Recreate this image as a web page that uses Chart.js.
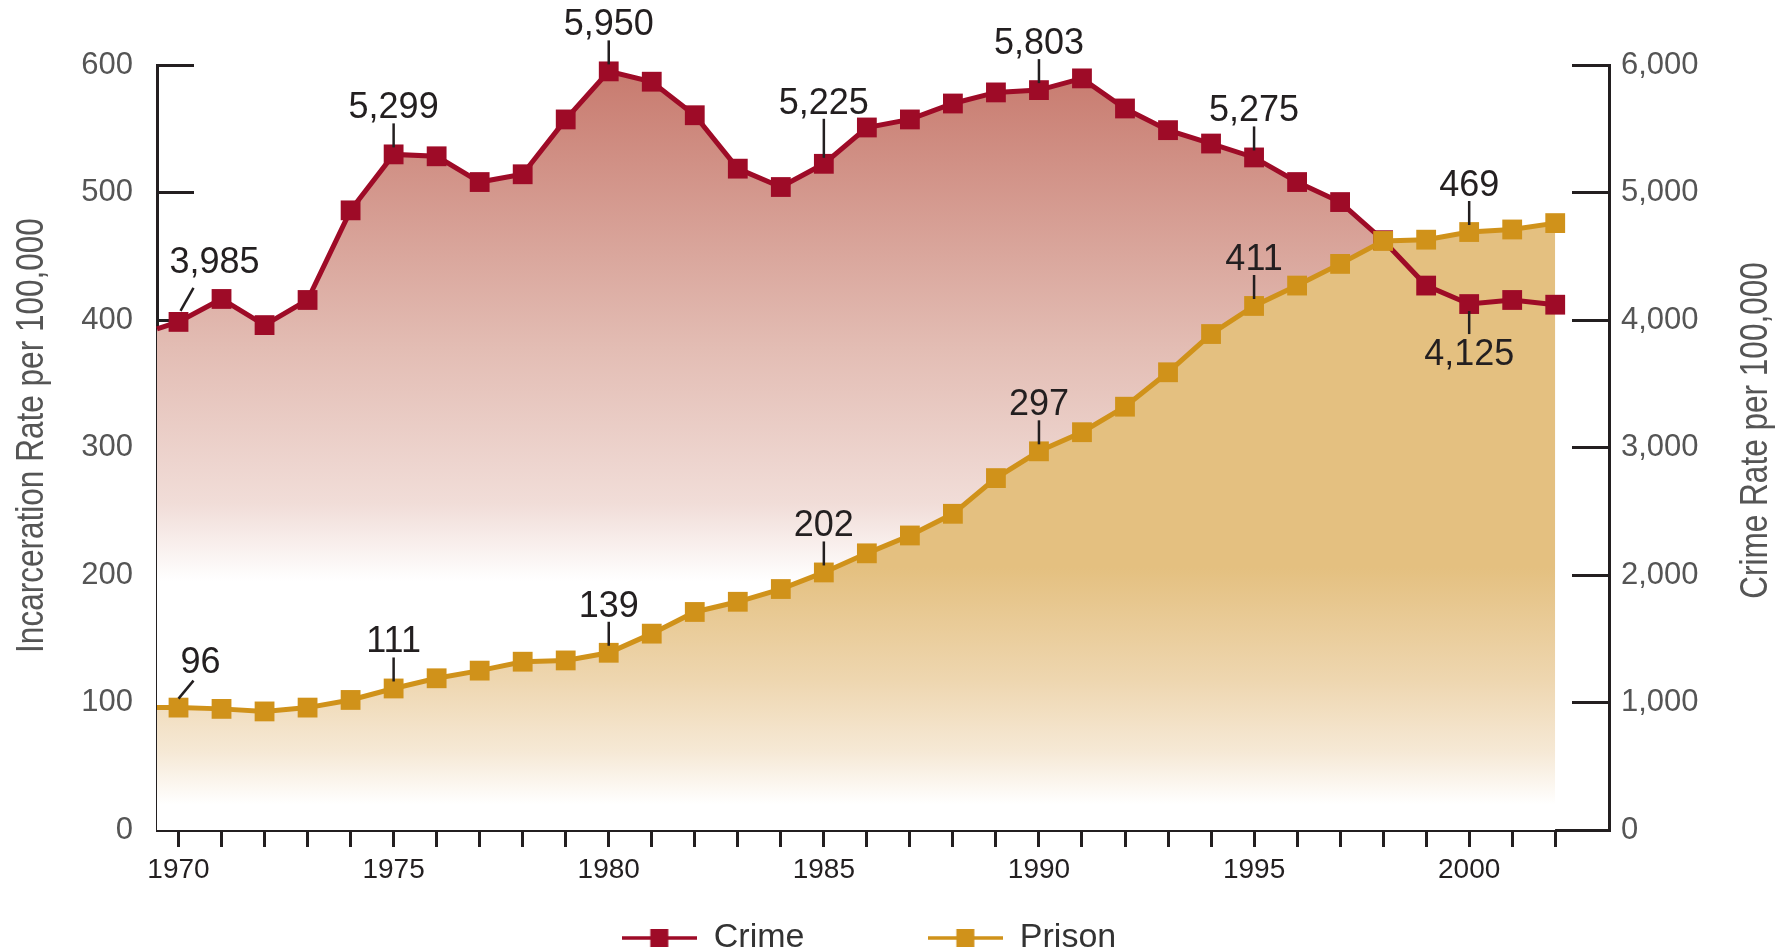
<!DOCTYPE html>
<html>
<head>
<meta charset="utf-8">
<script src="https://cdn.jsdelivr.net/npm/chart.js@4.4.1/dist/chart.umd.min.js"></script>
<style>
  html, body { margin: 0; padding: 0; background: #ffffff; }
  #wrap { width: 1789px; height: 949px; position: relative; }
  canvas { display: block; }
</style>
</head>
<body>
<div id="wrap"><canvas id="chart" width="1789" height="949"></canvas></div>
<script>
// ---------------- data ----------------
const years = [1970, 1971, 1972, 1973, 1974, 1975, 1976, 1977, 1978, 1979,
               1980, 1981, 1982, 1983, 1984, 1985, 1986, 1987, 1988, 1989,
               1990, 1991, 1992, 1993, 1994, 1995, 1996, 1997, 1998, 1999,
               2000, 2001, 2002];
// Crime rate per 100,000 (right axis)
const crimeRate = [3985, 4165, 3960, 4157, 4860, 5299, 5284, 5082, 5143, 5573,
                   5950, 5869, 5606, 5187, 5043, 5225, 5510, 5573, 5698, 5785,
                   5803, 5895, 5659, 5489, 5384, 5275, 5082, 4925, 4626, 4270,
                   4125, 4157, 4120];
// Incarceration rate per 100,000 (left axis)
const prisonRate = [96, 95, 93, 96, 102, 111, 119, 125, 132, 133,
                    139, 154, 171, 179, 189, 202, 217, 231, 248, 276,
                    297, 312, 332, 359, 389, 411, 427, 444, 462, 463,
                    469, 471, 476];
// values where the two lines meet the left edge of the plot (mid-1969)
const xAxisStart = 1969.5;
const xAxisEnd = 2003.25;
const crimeAtAxisEdge = 3930;
const prisonAtAxisEdge = 96;

const xLabelYears = [1970, 1975, 1980, 1985, 1990, 1995, 2000];
const leftTicks = [0, 100, 200, 300, 400, 500, 600];
const rightTicks = [0, 1000, 2000, 3000, 4000, 5000, 6000];
const seriesNames = ['Crime', 'Prison'];
const axisTitles = ['Incarceration Rate per 100,000', 'Crime Rate per 100,000'];
// years that carry a value callout, and the callout kind
const crimeCallouts = [[1970, 'slantA'], [1975, 'up'], [1980, 'up'], [1985, 'tall'], [1990, 'up'], [1995, 'up'], [2000, 'down']];
const prisonCallouts = [[1970, 'slantB'], [1975, 'up'], [1980, 'up'], [1985, 'up'], [1990, 'up'], [1995, 'up'], [2000, 'up']];

// ---------------- styles ----------------
const CRIME = '#9e0b27';
const PRISON = '#d0921a';
const INK = '#231f20';
const GREY = '#555555';
const SANS = "'Liberation Sans', Arial, sans-serif";

const calloutStyle = {
  up:     { x1: 0,  y1: -7,  x2: 0,  y2: -31, tx: 0,  ty: -36, align: 'center' },
  tall:   { x1: 0,  y1: -6,  x2: 0,  y2: -45, tx: 0,  ty: -50, align: 'center' },
  slantA: { x1: 2,  y1: -11, x2: 15, y2: -34, tx: -9, ty: -49, align: 'left' },
  slantB: { x1: 0,  y1: -9,  x2: 15, y2: -27, tx: 2,  ty: -35, align: 'left' },
  down:   { x1: 0,  y1: 7,   x2: 0,  y2: 30,  tx: 0,  ty: 61,  align: 'center' }
};

function crimeGradient(ctx) {
  const chart = ctx.chart;
  if (!chart.chartArea) return 'rgba(0,0,0,0)';
  const s = chart.scales.y2;
  const g = chart.ctx.createLinearGradient(0, s.getPixelForValue(6000), 0, s.getPixelForValue(1950));
  g.addColorStop(0, 'rgb(199,121,109)');
  g.addColorStop(0.55, 'rgb(227,189,180)');
  g.addColorStop(0.85, 'rgb(241,221,216)');
  g.addColorStop(1, 'rgb(255,255,255)');
  return g;
}
function prisonGradient(ctx) {
  const chart = ctx.chart;
  if (!chart.chartArea) return 'rgba(0,0,0,0)';
  const s = chart.scales.y;
  const g = chart.ctx.createLinearGradient(0, s.getPixelForValue(600), 0, s.getPixelForValue(20));
  g.addColorStop(0, 'rgb(228,192,128)');
  g.addColorStop(0.68, 'rgb(228,192,128)');
  g.addColorStop(0.83, 'rgb(238,214,175)');
  g.addColorStop(0.93, 'rgb(246,233,214)');
  g.addColorStop(1, 'rgb(255,255,255)');
  return g;
}

function legendIcon(color) {
  const c = document.createElement('canvas');
  c.width = 75; c.height = 20;
  const g = c.getContext('2d');
  g.fillStyle = color;
  g.fillRect(0, 8.25, 75, 3.5);
  g.fillRect(28.5, 1, 18, 18);
  return c;
}

const fmt = v => v.toLocaleString('en-US');

// draws a rotated (bottom-to-top), horizontally condensed axis title
function drawAxisTitle(ctx, text, x, y) {
  ctx.save();
  ctx.translate(x, y);
  ctx.rotate(-Math.PI / 2);
  ctx.scale(0.83, 1);
  ctx.font = '38px ' + SANS;
  ctx.fillStyle = GREY;
  ctx.textAlign = 'center';
  ctx.textBaseline = 'middle';
  ctx.fillText(text, 0, 0);
  ctx.restore();
}

// callouts + axis titles
const decorPlugin = {
  id: 'decor',
  afterDraw(chart) {
    const ctx = chart.ctx;
    const area = chart.chartArea;
    const midY = (area.top + area.bottom) / 2;
    drawAxisTitle(ctx, axisTitles[0], area.left - 124.5, midY - 12);
    drawAxisTitle(ctx, axisTitles[1], area.right + 147.5, midY - 17);

    const groups = [
      { dsIndex: 0, values: crimeRate, list: crimeCallouts },
      { dsIndex: 1, values: prisonRate, list: prisonCallouts }
    ];
    ctx.save();
    ctx.strokeStyle = INK;
    ctx.fillStyle = INK;
    ctx.lineWidth = 2.5;
    ctx.font = '36px ' + SANS;
    ctx.textBaseline = 'alphabetic';
    groups.forEach(gr => {
      const meta = chart.getDatasetMeta(gr.dsIndex);
      gr.list.forEach(([yr, kind]) => {
        const idx = years.indexOf(yr);
        const pt = meta.data[idx + 1];
        const st = calloutStyle[kind];
        const cx = pt.x, cy = pt.y;
        ctx.beginPath();
        ctx.moveTo(cx + st.x1, cy + st.y1);
        ctx.lineTo(cx + st.x2, cy + st.y2);
        ctx.stroke();
        ctx.textAlign = st.align;
        ctx.fillText(fmt(gr.values[idx]), cx + st.tx, cy + st.ty);
      });
    });
    ctx.restore();
  }
};

const tickGrid = (len) => ({
  display: true, drawOnChartArea: false, drawTicks: true,
  tickLength: len, tickWidth: 3, tickColor: INK
});
const axisBorder = { display: true, color: INK, width: 3 };
// keep the vertical axes from reserving extra room above/below the plot
const fitVertical = width => s => { s.width = width; s.paddingTop = 20; s.paddingBottom = 20; };

new Chart(document.getElementById('chart'), {
  type: 'line',
  data: {
    datasets: [
      {
        label: seriesNames[0],
        yAxisID: 'y2',
        order: 1,
        data: [{ x: xAxisStart, y: crimeAtAxisEdge }].concat(years.map((yr, i) => ({ x: yr, y: crimeRate[i] }))),
        borderColor: CRIME,
        borderWidth: 5,
        tension: 0,
        fill: 'origin',
        backgroundColor: crimeGradient,
        pointStyle: 'rect',
        pointRadius: c => (c.dataIndex === 0 ? 0 : 14),
        pointBackgroundColor: CRIME,
        pointBorderColor: CRIME,
        pointBorderWidth: 0,
        clip: false
      },
      {
        label: seriesNames[1],
        yAxisID: 'y',
        order: 0,
        data: [{ x: xAxisStart, y: prisonAtAxisEdge }].concat(years.map((yr, i) => ({ x: yr, y: prisonRate[i] }))),
        borderColor: PRISON,
        borderWidth: 5,
        tension: 0,
        fill: 'origin',
        backgroundColor: prisonGradient,
        pointStyle: 'rect',
        pointRadius: c => (c.dataIndex === 0 ? 0 : 14),
        pointBackgroundColor: PRISON,
        pointBorderColor: PRISON,
        pointBorderWidth: 0,
        clip: false
      }
    ]
  },
  options: {
    responsive: false,
    animation: false,
    devicePixelRatio: 1,
    events: [],
    layout: { padding: { top: 65, right: 51, bottom: -16, left: 0 } },
    plugins: {
      tooltip: { enabled: false },
      filler: { drawTime: 'beforeDatasetsDraw' },
      legend: {
        display: true,
        position: 'bottom',
        align: 'center',
        labels: {
          usePointStyle: true,
          pointStyleWidth: 75,
          padding: 10,
          color: '#333333',
          font: { family: SANS, size: 34 },
          generateLabels: chart => chart.data.datasets.map((ds, i) => ({
            text: ds.label + (i === 0 ? ' '.repeat(12) : ''),
            pointStyle: legendIcon(ds.borderColor),
            fillStyle: ds.borderColor,
            strokeStyle: ds.borderColor,
            lineWidth: 0,
            hidden: false,
            datasetIndex: i,
            fontColor: '#333333'
          }))
        }
      }
    },
    scales: {
      x: {
        type: 'linear',
        min: xAxisStart,
        max: xAxisEnd,
        afterBuildTicks: s => { s.ticks = years.map(v => ({ value: v })); },
        afterFit: s => { s.height = 81; },
        ticks: {
          autoSkip: false,
          maxRotation: 0,
          minRotation: 0,
          padding: 6,
          color: INK,
          font: { family: SANS, size: 28 },
          callback: v => (xLabelYears.includes(v) ? String(v) : '')
        },
        grid: tickGrid(17),
        border: axisBorder
      },
      y: {
        type: 'linear',
        position: 'left',
        min: 0,
        max: 600,
        afterBuildTicks: s => { s.ticks = leftTicks.map(v => ({ value: v })); },
        afterFit: fitVertical(157),
        ticks: {
          padding: 24 + 37,
          color: GREY,
          font: { family: SANS, size: 31 },
          callback: v => String(v)
        },
        grid: tickGrid(-37),
        border: axisBorder
      },
      y2: {
        type: 'linear',
        position: 'right',
        min: 0,
        max: 6000,
        afterBuildTicks: s => { s.ticks = rightTicks.map(v => ({ value: v })); },
        afterFit: fitVertical(129),
        ticks: {
          padding: 12 + 37,
          color: GREY,
          font: { family: SANS, size: 31 },
          callback: v => fmt(v)
        },
        grid: tickGrid(-37),
        border: axisBorder
      }
    }
  },
  plugins: [decorPlugin]
});
</script>
</body>
</html>
